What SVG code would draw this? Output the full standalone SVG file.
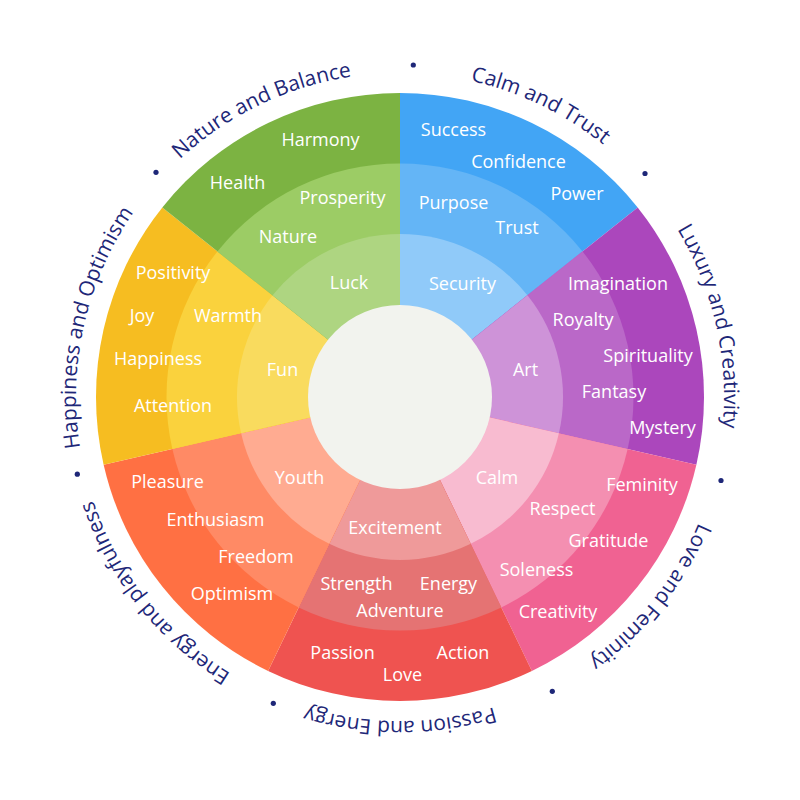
<svg xmlns="http://www.w3.org/2000/svg" width="800" height="800" viewBox="0 0 800 800">
<style>
.lbl{font-family:"Open Sans","Liberation Sans",sans-serif;font-size:18px;fill:#ffffff;text-anchor:middle}
.ttl{font-family:"Open Sans","Liberation Sans",sans-serif;font-size:21px;fill:#1E2778;text-anchor:middle}
.dot{fill:#1E2778}
</style>
<defs>
<path id="ring" d="M400,73 A324,324 0 1,1 400,721 A324,324 0 1,1 400,73"/>
</defs>
<rect width="800" height="800" fill="#ffffff"/>
<g id="sector-calm-trust">
<path d="M400,397 L400,93 A304,304 0 0,1 637.68,207.46 Z" fill="#42A5F5"/>
<path d="M400,397 L400,163.5 A233.5,233.5 0 0,1 582.56,251.41 Z" fill="#64B5F6"/>
<path d="M400,397 L400,234 A163,163 0 0,1 527.44,295.37 Z" fill="#90CAF9"/>
<text class="lbl" x="453.5" y="136">Success</text>
<text class="lbl" x="518.5" y="168">Confidence</text>
<text class="lbl" x="577" y="200">Power</text>
<text class="lbl" x="453.5" y="209">Purpose</text>
<text class="lbl" x="517" y="234">Trust</text>
<text class="lbl" x="462.5" y="290">Security</text>
<text class="ttl"><textPath href="#ring" startOffset="7.1429%">Calm and Trust</textPath></text>
</g>
<g id="sector-luxury-creativity">
<path d="M400,397 L637.68,207.46 A304,304 0 0,1 696.38,464.65 Z" fill="#AB47BC"/>
<path d="M400,397 L582.56,251.41 A233.5,233.5 0 0,1 627.65,448.96 Z" fill="#BA68C8"/>
<path d="M400,397 L527.44,295.37 A163,163 0 0,1 558.91,433.27 Z" fill="#CE93D8"/>
<text class="lbl" x="618" y="290">Imagination</text>
<text class="lbl" x="583" y="326">Royalty</text>
<text class="lbl" x="648" y="362">Spirituality</text>
<text class="lbl" x="614" y="398">Fantasy</text>
<text class="lbl" x="662.5" y="434">Mystery</text>
<text class="lbl" x="525.5" y="376">Art</text>
<text class="ttl"><textPath href="#ring" startOffset="21.4286%">Luxury and Creativity</textPath></text>
</g>
<g id="sector-love-feminity">
<path d="M400,397 L696.38,464.65 A304,304 0 0,1 531.90,670.89 Z" fill="#F06292"/>
<path d="M400,397 L627.65,448.96 A233.5,233.5 0 0,1 501.31,607.38 Z" fill="#F48FB1"/>
<path d="M400,397 L558.91,433.27 A163,163 0 0,1 470.72,543.86 Z" fill="#F8BBD0"/>
<text class="lbl" x="642" y="491">Feminity</text>
<text class="lbl" x="562.5" y="515">Respect</text>
<text class="lbl" x="608.5" y="547">Gratitude</text>
<text class="lbl" x="536.5" y="576">Soleness</text>
<text class="lbl" x="558" y="618">Creativity</text>
<text class="lbl" x="497" y="484">Calm</text>
<text class="ttl"><textPath href="#ring" startOffset="35.7143%">Love and Feminity</textPath></text>
</g>
<g id="sector-passion-energy">
<path d="M400,397 L531.90,670.89 A304,304 0 0,1 268.10,670.89 Z" fill="#EF5350"/>
<path d="M400,397 L501.31,607.38 A233.5,233.5 0 0,1 298.69,607.38 Z" fill="#E57373"/>
<path d="M400,397 L470.72,543.86 A163,163 0 0,1 329.28,543.86 Z" fill="#EF9A9A"/>
<text class="lbl" x="342.5" y="659">Passion</text>
<text class="lbl" x="402.5" y="681">Love</text>
<text class="lbl" x="463" y="659">Action</text>
<text class="lbl" x="356.5" y="590">Strength</text>
<text class="lbl" x="448.5" y="590">Energy</text>
<text class="lbl" x="400" y="617">Adventure</text>
<text class="lbl" x="395" y="534">Excitement</text>
<text class="ttl"><textPath href="#ring" startOffset="50%">Passion and Energy</textPath></text>
</g>
<g id="sector-energy-playfulness">
<path d="M400,397 L268.10,670.89 A304,304 0 0,1 103.62,464.65 Z" fill="#FF7043"/>
<path d="M400,397 L298.69,607.38 A233.5,233.5 0 0,1 172.35,448.96 Z" fill="#FF8A65"/>
<path d="M400,397 L329.28,543.86 A163,163 0 0,1 241.09,433.27 Z" fill="#FFAB91"/>
<text class="lbl" x="167.5" y="488">Pleasure</text>
<text class="lbl" x="215.5" y="526">Enthusiasm</text>
<text class="lbl" x="256" y="563">Freedom</text>
<text class="lbl" x="232" y="600">Optimism</text>
<text class="lbl" x="299.5" y="484">Youth</text>
<text class="ttl"><textPath href="#ring" startOffset="64.2857%">Energy and playfulness</textPath></text>
</g>
<g id="sector-happiness-optimism">
<path d="M400,397 L103.62,464.65 A304,304 0 0,1 162.32,207.46 Z" fill="#F6BD21"/>
<path d="M400,397 L172.35,448.96 A233.5,233.5 0 0,1 217.44,251.41 Z" fill="#FAD23D"/>
<path d="M400,397 L241.09,433.27 A163,163 0 0,1 272.56,295.37 Z" fill="#F9DB5E"/>
<text class="lbl" x="173" y="279">Positivity</text>
<text class="lbl" x="142" y="322">Joy</text>
<text class="lbl" x="228" y="322">Warmth</text>
<text class="lbl" x="158" y="365">Happiness</text>
<text class="lbl" x="173" y="412">Attention</text>
<text class="lbl" x="282.5" y="376">Fun</text>
<text class="ttl"><textPath href="#ring" startOffset="78.5714%">Happiness and Optimism</textPath></text>
</g>
<g id="sector-nature-balance">
<path d="M400,397 L162.32,207.46 A304,304 0 0,1 400,93 Z" fill="#7CB342"/>
<path d="M400,397 L217.44,251.41 A233.5,233.5 0 0,1 400,163.5 Z" fill="#9CCC65"/>
<path d="M400,397 L272.56,295.37 A163,163 0 0,1 400,234 Z" fill="#AED581"/>
<text class="lbl" x="320.5" y="146">Harmony</text>
<text class="lbl" x="237.5" y="189">Health</text>
<text class="lbl" x="342.5" y="204">Prosperity</text>
<text class="lbl" x="288" y="243">Nature</text>
<text class="lbl" x="349" y="289">Luck</text>
<text class="ttl"><textPath href="#ring" startOffset="92.8571%">Nature and Balance</textPath></text>
</g>
<g id="center">
<circle cx="400" cy="397" r="92" fill="#F2F3EE"/>
</g>
<g id="dots">
<circle class="dot" cx="413.3" cy="65" r="2.6"/>
<circle class="dot" cx="645" cy="173.5" r="2.6"/>
<circle class="dot" cx="721" cy="480.5" r="2.6"/>
<circle class="dot" cx="552.3" cy="691.3" r="2.6"/>
<circle class="dot" cx="273.3" cy="703.3" r="2.6"/>
<circle class="dot" cx="77.3" cy="474.2" r="2.6"/>
<circle class="dot" cx="156" cy="172.3" r="2.6"/>
</g>
</svg>
